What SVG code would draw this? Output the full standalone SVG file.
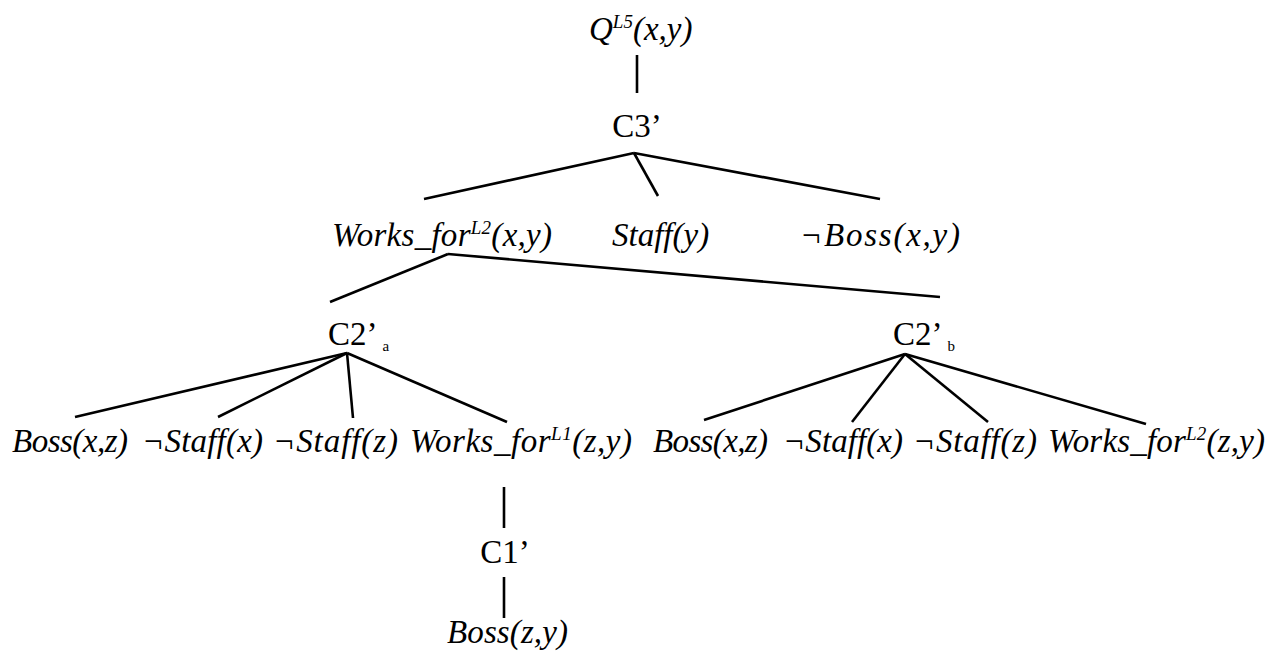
<svg xmlns="http://www.w3.org/2000/svg" width="1281" height="662" viewBox="0 0 1281 662">
  <style>
    .t { font-family: "Liberation Serif", "Times New Roman", serif; font-size: 33px; fill: #000; }
    .i { font-style: italic; }
    .sup { font-size: 19px; }
    .sub { font-size: 15px; }
    .edge { stroke: #000; stroke-width: 2.6; fill: none; stroke-linecap: butt; }
  </style>
  <rect width="1281" height="662" fill="#fff"/>

  <!-- tree edges -->
  <g id="edges">
    <line class="edge" x1="637" y1="55" x2="637" y2="93"/>
    <line class="edge" x1="634" y1="153" x2="424" y2="199"/>
    <line class="edge" x1="634" y1="153" x2="658" y2="196"/>
    <line class="edge" x1="634" y1="153" x2="880" y2="199"/>
    <line class="edge" x1="448" y1="254" x2="330" y2="302"/>
    <line class="edge" x1="448" y1="254" x2="940" y2="297"/>
    <line class="edge" x1="347" y1="353" x2="75" y2="417"/>
    <line class="edge" x1="347" y1="353" x2="218" y2="417"/>
    <line class="edge" x1="347" y1="353" x2="353" y2="418"/>
    <line class="edge" x1="347" y1="353" x2="507" y2="422"/>
    <line class="edge" x1="905" y1="354" x2="704" y2="420"/>
    <line class="edge" x1="905" y1="354" x2="852" y2="422"/>
    <line class="edge" x1="905" y1="354" x2="988" y2="422"/>
    <line class="edge" x1="905" y1="354" x2="1146" y2="424"/>
    <line class="edge" x1="504" y1="487" x2="504" y2="528"/>
    <line class="edge" x1="504" y1="577" x2="504" y2="618"/>
  </g>

  <g id="q">
    <text class="t i" x="589" y="40">Q<tspan class="sup" dy="-12">L5</tspan><tspan dy="12">(x,y)</tspan></text>
  </g>
  <g id="c3">
    <text class="t" x="637" y="137" text-anchor="middle">C3’</text>
  </g>
  <g id="works-for-xy">
    <text class="t i" x="332" y="246" textLength="220" lengthAdjust="spacing">Works_for<tspan class="sup" dy="-12">L2</tspan><tspan dy="12">(x,y)</tspan></text>
  </g>
  <g id="staff-y">
    <text class="t i" x="612" y="246">Staff(y)</text>
  </g>
  <g id="not-boss-xy">
    <text class="t i" x="800" y="246" textLength="160" lengthAdjust="spacing">¬Boss(x,y)</text>
  </g>
  <g id="c2a">
    <text class="t" x="328" y="345">C2’<tspan class="sub" dx="5" dy="6">a</tspan></text>
  </g>
  <g id="c2b">
    <text class="t" x="893" y="345">C2’<tspan class="sub" dx="5" dy="6">b</tspan></text>
  </g>

  <!-- children of C2'a -->
  <g id="a-boss-xz"><text class="t i" x="12" y="452" textLength="116" lengthAdjust="spacing">Boss(x,z)</text></g>
  <g id="a-not-staff-x"><text class="t i" x="142" y="452" textLength="121" lengthAdjust="spacing">¬Staff(x)</text></g>
  <g id="a-not-staff-z"><text class="t i" x="273" y="452" textLength="125" lengthAdjust="spacing">¬Staff(z)</text></g>
  <g id="a-works-for-zy">
    <text class="t i" x="410" y="452" textLength="222" lengthAdjust="spacing">Works_for<tspan class="sup" dy="-12">L1</tspan><tspan dy="12">(z,y)</tspan></text>
  </g>

  <!-- children of C2'b -->
  <g id="b-boss-xz"><text class="t i" x="653" y="452" textLength="115" lengthAdjust="spacing">Boss(x,z)</text></g>
  <g id="b-not-staff-x"><text class="t i" x="783" y="452" textLength="120" lengthAdjust="spacing">¬Staff(x)</text></g>
  <g id="b-not-staff-z"><text class="t i" x="913" y="452" textLength="124" lengthAdjust="spacing">¬Staff(z)</text></g>
  <g id="b-works-for-zy">
    <text class="t i" x="1048" y="452" textLength="217" lengthAdjust="spacing">Works_for<tspan class="sup" dy="-12">L2</tspan><tspan dy="12">(z,y)</tspan></text>
  </g>

  <g id="c1">
    <text class="t" x="505" y="563" text-anchor="middle">C1’</text>
  </g>
  <g id="boss-zy">
    <text class="t i" x="447" y="643" textLength="121" lengthAdjust="spacing">Boss(z,y)</text>
  </g>
</svg>
